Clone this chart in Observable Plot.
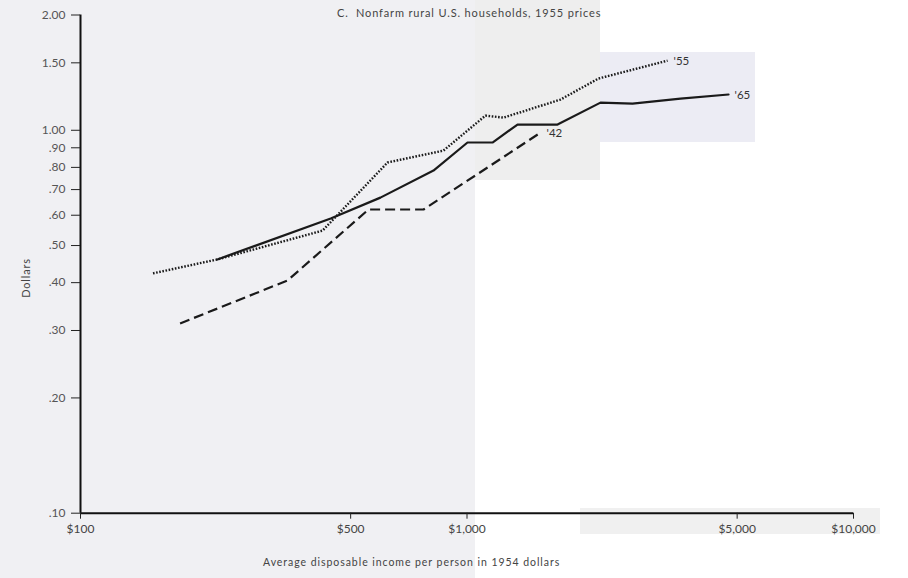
<!DOCTYPE html>
<html>
<head>
<meta charset="utf-8">
<script src="https://cdn.jsdelivr.net/npm/d3@7"></script>
<script src="https://cdn.jsdelivr.net/npm/@observablehq/plot@0.6"></script>
<style>
  html, body { margin: 0; padding: 0; background: #ffffff; }
  #wrap { position: relative; width: 908px; height: 578px; overflow: hidden; font-family: Lato, "Open Sans", sans-serif; }
  .bg { position: absolute; }
  .lbl { position: absolute; white-space: nowrap; color: #444; }
  #chart { position: absolute; left: 0; top: 0; }
</style>
</head>
<body>
<div id="wrap">
  <div class="bg" style="left:0;top:0;width:475px;height:578px;background:#f0f0f3;"></div>
  <div class="bg" style="left:475px;top:0;width:125px;height:180px;background:#eeeeee;"></div>
  <div class="bg" style="left:600px;top:52px;width:155px;height:90px;background:#ececf4;"></div>
  <div class="bg" style="left:580px;top:508px;width:300px;height:26px;background:#f0f0f0;"></div>
  <div id="chart"></div>
  <div class="lbl" style="left:337px;top:6px;font-size:11px;letter-spacing:0.85px;">C.&nbsp; Nonfarm rural U.S. households, 1955 prices</div>
  <div class="lbl" style="left:263px;top:556px;font-size:10.5px;letter-spacing:0.95px;">Average disposable income per person in 1954 dollars</div>
  <div class="lbl" style="left:25px;top:278px;font-size:11px;letter-spacing:0.8px;transform:translate(-50%,-50%) rotate(-90deg);">Dollars</div>
</div>
<script>
// Series: 1942 (dashed), 1955 (dotted), 1965 (solid)
const seriesNames = ["'42", "'55", "'65"];

const income42 = [181, 343, 556, 772, 1550];
const dollars42 = [0.313, 0.405, 0.621, 0.621, 0.986];

const income55 = [154, 226, 423, 623, 869, 1116, 1243, 1746, 2189, 3303];
const dollars55 = [0.423, 0.460, 0.547, 0.824, 0.885, 1.092, 1.079, 1.203, 1.365, 1.52];

const income65 = [226, 444, 597, 819, 1003, 1164, 1351, 1715, 2215, 2681, 3568, 4750];
const dollars65 = [0.460, 0.588, 0.667, 0.785, 0.929, 0.929, 1.035, 1.035, 1.181, 1.174, 1.210, 1.240];

const xTicks = [100, 500, 1000, 5000, 10000];
const xTickLabels = ["$100", "$500", "$1,000", "$5,000", "$10,000"];
const yTicks = [2.0, 1.5, 1.0, 0.9, 0.8, 0.7, 0.6, 0.5, 0.4, 0.3, 0.2, 0.1];
const yTickLabels = ["2.00", "1.50", "1.00", ".90", ".80", ".70", ".60", ".50", ".40", ".30", ".20", ".10"];

const toRows = (name, xs, ys) => xs.map((x, i) => ({series: name, income: x, dollars: ys[i]}));
const rows42 = toRows(seriesNames[0], income42, dollars42);
const rows55 = toRows(seriesNames[1], income55, dollars55);
const rows65 = toRows(seriesNames[2], income65, dollars65);
const lastPoints = [rows42.at(-1), rows55.at(-1), rows65.at(-1)];

const lineColor = "#1a1a1a";

const chart = Plot.plot({
  width: 908,
  height: 578,
  marginLeft: 80,
  marginRight: 55,
  marginTop: 14.5,
  marginBottom: 65.3,
  style: {background: "transparent", fontFamily: "Lato, 'Open Sans', sans-serif", fontSize: "11px", color: "#444"},
  x: {type: "log", domain: [100, 10000]},
  y: {type: "log", domain: [0.1, 2]},
  marks: [
    Plot.ruleX([100], {stroke: "#111", strokeWidth: 2}),
    Plot.ruleY([0.1], {stroke: "#111", strokeWidth: 2}),
    Plot.axisY({ticks: yTicks, tickFormat: (d) => yTickLabels[yTicks.indexOf(d)], tickSize: 9, tickPadding: 6, tickStrokeWidth: 1.5, stroke: "#222", label: null, fill: "#555", fontSize: 12}),
    Plot.axisX({ticks: xTicks, tickFormat: (d) => xTickLabels[xTicks.indexOf(d)], tickSize: 6, tickPadding: 5, tickStrokeWidth: 1.5, stroke: "#222", label: null, fill: "#444", fontSize: 12}),
    Plot.line(rows42, {x: "income", y: "dollars", stroke: lineColor, strokeWidth: 2.2, strokeDasharray: "10,5", strokeLinecap: "butt"}),
    Plot.line(rows55, {x: "income", y: "dollars", stroke: lineColor, strokeWidth: 2.4, strokeDasharray: "1.6,1.6", strokeLinecap: "butt"}),
    Plot.line(rows65, {x: "income", y: "dollars", stroke: lineColor, strokeWidth: 2.2}),
    Plot.text(lastPoints, {x: "income", y: "dollars", text: "series", dx: 6, dy: 1, textAnchor: "start", fill: "#333", fontSize: 11.5})
  ]
});
document.getElementById("chart").appendChild(chart);
</script>
</body>
</html>
